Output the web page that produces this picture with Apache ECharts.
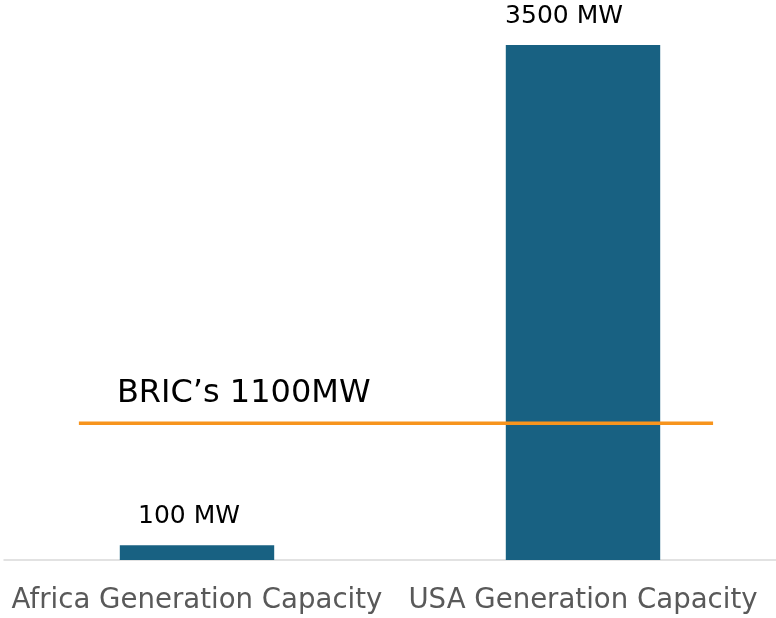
<!DOCTYPE html>
<html><head><meta charset="utf-8">
<script src="https://cdn.jsdelivr.net/npm/echarts@6/dist/echarts.min.js"></script>
<style>html,body{margin:0;padding:0;background:#fff}#c{width:776px;height:618px}</style>
</head><body><div id="c"></div>
<script>
const categories = ['Africa Generation Capacity', 'USA Generation Capacity'];
const capacityMW = [100, 3500];
const valueLabels = ['100 MW', '3500 MW'];
const bricLabel = 'BRIC\u2019s 1100MW';
const bricLevel = 930;           // position
const bricSpan = [0.194, 1.837]; // horizontal extent in category units

const FONT = 'DejaVu Sans';
const labelShift = [-8, -19];
const chart = echarts.init(document.getElementById('c'));
chart.setOption({
  animation: false,
  grid: { left: 4, top: 45, width: 774, bottom: 58, containLabel: false },
  xAxis: [
    { type: 'category', data: categories,
      axisLine: { lineStyle: { color: '#D9D9D9', width: 1.5 } },
      axisTick: { show: false },
      axisLabel: { interval: 0, hideOverlap: false, color: '#595959', fontSize: 27.6,
                   fontFamily: FONT, margin: 27 } },
    { type: 'value', min: 0, max: 2, show: false }
  ],
  yAxis: { type: 'value', min: 0, max: 3500, show: false, splitLine: { show: false } },
  series: [
    { type: 'bar', barWidth: '40%', itemStyle: { color: '#186182' },
      data: capacityMW.map((v, i) => ({ value: v, label: { offset: [labelShift[i], 0] } })),
      label: { show: true, position: 'top', distance: 16, color: '#000', fontSize: 25,
               fontFamily: FONT, formatter: p => valueLabels[p.dataIndex] } },
    { type: 'line', xAxisIndex: 1, symbol: 'circle', symbolSize: 0, showSymbol: true,
      data: [[bricSpan[0], bricLevel], [bricSpan[1], bricLevel]],
      lineStyle: { color: '#F7941D', width: 3.5 },
      label: { show: true, position: [38, -29], align: 'left', verticalAlign: 'middle',
               color: '#000', fontSize: 32, fontFamily: FONT,
               formatter: p => p.dataIndex === 0 ? bricLabel : '' } }
  ]
});
</script></body></html>
